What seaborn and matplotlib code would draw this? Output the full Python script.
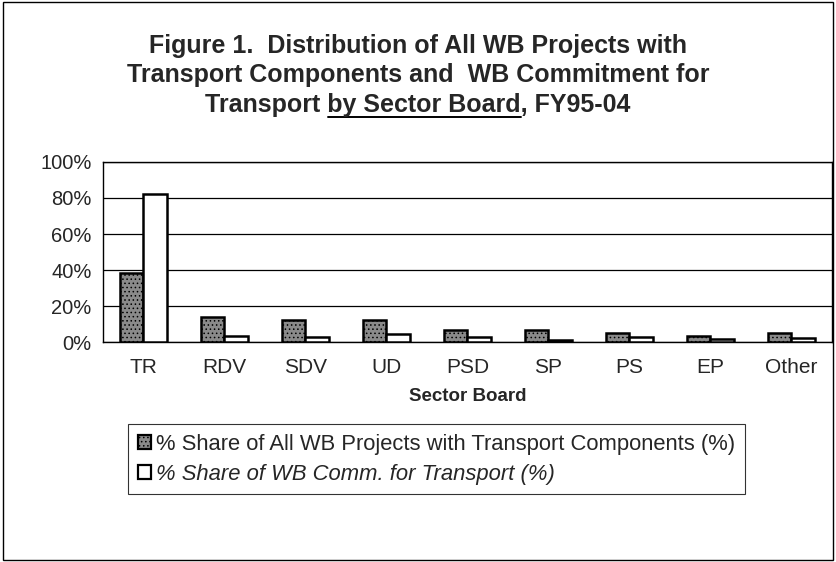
import matplotlib
matplotlib.use("Agg")
import matplotlib.pyplot as plt
import seaborn as sns
import pandas as pd
import numpy as np
from matplotlib.patches import Rectangle
from matplotlib.ticker import PercentFormatter, FixedLocator

sectors = ["TR", "RDV", "SDV", "UD", "PSD", "SP", "PS", "EP", "Other"]
share_projects = [38.3, 14.0, 12.2, 12.2, 6.7, 6.7, 5.4, 3.5, 5.2]
share_commit = [82.0, 3.5, 3.0, 4.8, 3.0, 1.5, 3.0, 2.0, 2.6]
series_names = ["% Share of All WB Projects with Transport Components (%)",
                "% Share of WB Comm. for Transport (%)"]

df = pd.DataFrame({
    "sector": sectors * 2,
    "value": share_projects + share_commit,
    "series": [series_names[0]] * len(sectors) + [series_names[1]] * len(sectors),
})

sns.set_style("white")
plt.rcParams["font.family"] = ["Liberation Sans", "DejaVu Sans"]
plt.rcParams["hatch.color"] = "#3a3a3a"
plt.rcParams["hatch.linewidth"] = 0.6

fig = plt.figure(figsize=(8.36, 5.62), dpi=100)
ax = fig.add_axes([0.123, 0.391, 0.872, 0.321])

sns.barplot(data=df, x="sector", y="value", hue="series", order=sectors,
            hue_order=series_names, palette=["#8a8a8a", "white"],
            width=0.58, edgecolor="black", linewidth=1.8, saturation=1,
            ax=ax, zorder=3)

# stipple texture on the grey bars
for bar in ax.containers[0]:
    bar.set_hatch("....")

ax.set_ylim(0, 100)
ax.set_xlim(-0.5, len(sectors) - 0.5)
ax.yaxis.set_major_locator(FixedLocator([0, 20, 40, 60, 80, 100]))
ax.yaxis.set_major_formatter(PercentFormatter(decimals=0))
ax.grid(axis="y", color="black", linewidth=0.9, zorder=0)
ax.set_axisbelow(True)
for s in ax.spines.values():
    s.set_visible(True)
    s.set_color("black")
    s.set_linewidth(1.0)

ax.set_xticks(np.arange(-0.5, len(sectors)), minor=True)
ax.tick_params(axis="x", which="major", length=0, labelsize=15, pad=11)
ax.tick_params(axis="x", which="minor", length=5, direction="out", width=1, color="black")
ax.tick_params(axis="y", length=6, direction="out", width=1, color="black", labelsize=14.5, pad=2)
ax.set_xlabel("Sector Board", fontsize=13.5, fontweight="bold", labelpad=8)
ax.set_ylabel("")

ax.legend_.remove()
handles = [Rectangle((0, 0), 1, 1, facecolor="#8a8a8a", edgecolor="black", hatch="....", linewidth=1.6),
           Rectangle((0, 0), 1, 1, facecolor="white", edgecolor="black", linewidth=1.6)]
leg = fig.legend(handles, series_names, loc="upper left", bbox_to_anchor=(0.153, 0.245),
                 frameon=True, fancybox=False, fontsize=15.8, handlelength=0.6, handleheight=0.6,
                 handletextpad=0.25, labelspacing=0.38, borderpad=0.45, borderaxespad=0,
                 edgecolor="black")
leg.get_frame().set_linewidth(0.8)
leg.get_texts()[1].set_fontstyle("italic")

title_kw = dict(ha="center", va="center", fontsize=18, fontweight="bold")
fig.text(0.5, 0.919, "Figure 1.  Distribution of All WB Projects with", **title_kw)
fig.text(0.5, 0.866, "Transport Components and  WB Commitment for", **title_kw)
t3 = fig.text(0.5, 0.813, "Transport by Sector Board, FY95-04", **title_kw)

# underline "by Sector Board"
fig.canvas.draw()
r = fig.canvas.get_renderer()
def text_width(s):
    t = fig.text(0, 0, s, fontsize=18, fontweight="bold")
    w = t.get_window_extent(r).width
    t.remove()
    return w
bb = t3.get_window_extent(r)
x_end = bb.x0 + text_width("Transport by Sector Board")
x_start = x_end - text_width("by Sector Board")
W = fig.bbox.width
fig.add_artist(plt.Line2D([x_start / W, x_end / W], [0.792, 0.792], color="black",
                          linewidth=1.4, transform=fig.transFigure))

fig.add_artist(Rectangle((0.003, 0.004), 0.994, 0.992, fill=False, edgecolor="black",
                         linewidth=1.0, transform=fig.transFigure))

fig.savefig("out.png", dpi=100)
